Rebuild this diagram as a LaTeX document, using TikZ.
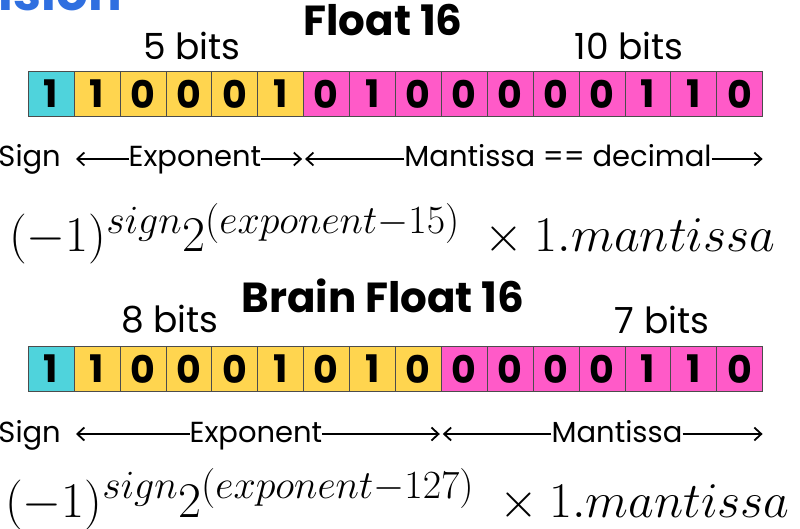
\RequirePackage{fix-cm}
\documentclass[tikz,border=0pt]{standalone}
\usepackage{fontspec}
\setmainfont{Poppins}
\usetikzlibrary{arrows.meta, positioning}
\DeclareMathSizes{50}{50}{40}{30}
\definecolor{signcyan}{HTML}{4FD3DC}
\definecolor{expyellow}{HTML}{FFD54F}
\definecolor{manpink}{HTML}{FF5AC8}
\definecolor{headblue}{HTML}{2F6FE0}
\tikzstyle{signbit} = [
  rectangle,
  minimum width=45.9pt,
  minimum height=45pt,
  inner sep=0,
  draw=black!70,
  font=\fontsize{38}{40}\selectfont\bfseries,
  fill=signcyan
]
\tikzstyle{expbit} = [
  rectangle,
  minimum width=45.9pt,
  minimum height=45pt,
  inner sep=0,
  draw=black!70,
  font=\fontsize{38}{40}\selectfont\bfseries,
  fill=expyellow
]
\tikzstyle{manbit} = [
  rectangle,
  minimum width=45.9pt,
  minimum height=45pt,
  inner sep=0,
  draw=black!70,
  font=\fontsize{38}{40}\selectfont\bfseries,
  fill=manpink
]
\tikzstyle{title} = [
  anchor=base,
  inner sep=0,
  font=\fontsize{42}{48}\selectfont\bfseries
]
\tikzstyle{bitcount} = [
  anchor=base,
  inner sep=0,
  font=\fontsize{36}{40}\selectfont
]
\tikzstyle{field} = [
  inner sep=0,
  text height=20pt,
  text depth=4pt,
  font=\fontsize{29}{32}\selectfont
]
\tikzstyle{formula} = [
  anchor=base west,
  inner sep=0,
  font=\fontsize{50}{58}\selectfont
]
\tikzstyle{arrow} = [
  line width=1.8pt,
  -{Straight Barb[length=7pt,width=13pt]}
]
\begin{document}
\begin{tikzpicture}[x=1pt, y=1pt, node distance=45.9pt]
      \useasboundingbox (0,0) rectangle (800,-529);

      % heading cut off at the top
      \node [anchor=base east, inner sep=0, text=headblue, font=\fontsize{50}{60}\selectfont\bfseries] (head) at (122,-11) {Precision};

      % float 16
      \node [title] (ftitle) at (383,-36) {Float 16};
      \node [signbit] (h0) at (50.95,-94) {1};
      \node [expbit, right of=h0] (h1) {1};
      \node [expbit, right of=h1] (h2) {0};
      \node [expbit, right of=h2] (h3) {0};
      \node [expbit, right of=h3] (h4) {0};
      \node [expbit, right of=h4] (h5) {1};
      \node [manbit, right of=h5] (h6) {0};
      \node [manbit, right of=h6] (h7) {1};
      \node [manbit, right of=h7] (h8) {0};
      \node [manbit, right of=h8] (h9) {0};
      \node [manbit, right of=h9] (h10) {0};
      \node [manbit, right of=h10] (h11) {0};
      \node [manbit, right of=h11] (h12) {0};
      \node [manbit, right of=h12] (h13) {1};
      \node [manbit, right of=h13] (h14) {1};
      \node [manbit, right of=h14] (h15) {0};
      \node [bitcount] (elen1) at (192,-60) {5 bits};
      \node [bitcount] (mlen1) at (629,-60) {10 bits};

      \node [field, anchor=east] (sign1) at (61,-159) {Sign};
      \node [field] (exp1) at (195,-159) {Exponent};
      \node [field] (man1) at (558,-159) {Mantissa == decimal};
      \coordinate (split1) at (exp1 -| h5.east);
      \draw [arrow] (exp1) -- ([xshift=15pt]sign1.east);
      \draw [arrow] (exp1) -- ([xshift=-1.5pt]split1);
      \draw [arrow] (man1) -- ([xshift=1.5pt]split1);
      \draw [arrow] (man1) -- (man1 -| h15.east);

      \node [formula] (eq1) at (9,-252) {$(-1)^{sign}2^{(exponent-15)}\;\times 1.mantissa$};

      % brain float 16
      \node [title] (btitle) at (383,-312) {Brain Float 16};
      \node [signbit] (b0) at (50.95,-369) {1};
      \node [expbit, right of=b0] (b1) {1};
      \node [expbit, right of=b1] (b2) {0};
      \node [expbit, right of=b2] (b3) {0};
      \node [expbit, right of=b3] (b4) {0};
      \node [expbit, right of=b4] (b5) {1};
      \node [expbit, right of=b5] (b6) {0};
      \node [expbit, right of=b6] (b7) {1};
      \node [expbit, right of=b7] (b8) {0};
      \node [manbit, right of=b8] (b9) {0};
      \node [manbit, right of=b9] (b10) {0};
      \node [manbit, right of=b10] (b11) {0};
      \node [manbit, right of=b11] (b12) {0};
      \node [manbit, right of=b12] (b13) {1};
      \node [manbit, right of=b13] (b14) {1};
      \node [manbit, right of=b14] (b15) {0};
      \node [bitcount] (elen2) at (170,-332) {8 bits};
      \node [bitcount] (mlen2) at (662,-333) {7 bits};

      \node [field, anchor=east] (sign2) at (61,-434) {Sign};
      \node [field] (exp2) at (256,-434) {Exponent};
      \node [field] (man2) at (617,-434) {Mantissa};
      \coordinate (split2) at (exp2 -| b8.east);
      \draw [arrow] (exp2) -- ([xshift=15pt]sign2.east);
      \draw [arrow] (exp2) -- ([xshift=-1.5pt]split2);
      \draw [arrow] (man2) -- ([xshift=1.5pt]split2);
      \draw [arrow] (man2) -- (man2 -| b15.east);

      \node [formula] (eq2) at (5,-517) {$(-1)^{sign}2^{(exponent-127)}\;\times 1.mantissa$};

    \end{tikzpicture}
\end{document}
